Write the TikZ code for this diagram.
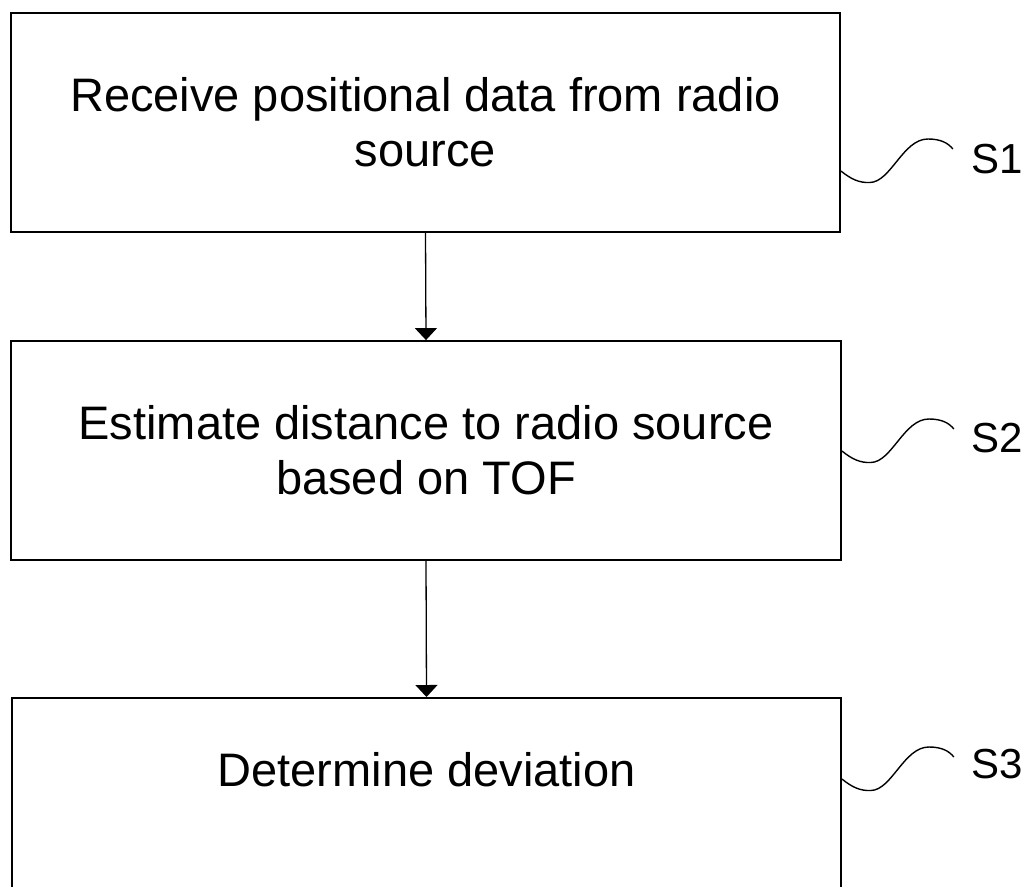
\documentclass[tikz,border=0pt]{standalone}
\usepackage{fontspec}
\setmainfont{Liberation Sans}
\usetikzlibrary{arrows.meta,calc}
\begin{document}
\begin{tikzpicture}[x=1pt,y=1pt,
  stepbox/.style={draw=black, line width=1.8pt, rectangle, inner sep=0pt, align=center,
    font=\fontsize{47}{55}\selectfont},
  txt/.style={inner sep=0pt, align=center, font=\fontsize{47}{55}\selectfont},
  flow/.style={draw=black, line width=1.3pt, -{Triangle[width=22pt,length=12pt]}},
  leader/.style={draw=black, line width=1.4pt},
  steplabel/.style={inner sep=0pt, anchor=base west, font=\fontsize{42}{48}\selectfont}]
\useasboundingbox (0,0) rectangle (1030,-886);
\fill[white] (0,0) rectangle (1030,-886);
% boxes
\node[stepbox, minimum width=829pt, minimum height=219pt] (b1) at (425.5,-122.5)
  {Receive positional data from radio\\source};
\node[stepbox, minimum width=830pt, minimum height=219pt] (b2) at (426,-450.5)
  {Estimate distance to radio source\\based on TOF};
\node[stepbox, minimum width=829pt, minimum height=230pt, anchor=north] (b3) at (426.5,-697) {};
\node[txt] (t3) at (426.5,-770) {Determine deviation};
% arrows
\draw[flow] (b1.south) -- (b2.north);
\draw[flow] (b2.south) -- (b3.north);
% leaders
\coordinate (y1) at (0,-171);
\coordinate (y2) at (0,-451);
\coordinate (y3) at (0,-779);
\coordinate (s1) at (b1.east |- y1);
\coordinate (s2) at (b2.east |- y2);
\coordinate (s3) at (b3.east |- y3);
\foreach \s in {s1,s2,s3}{
  \draw[leader] (\s) .. controls ($(\s)+(10,-8)$) and ($(\s)+(18,-12)$) .. ($(\s)+(29,-11.5)$)
    .. controls ($(\s)+(50,-11)$) and ($(\s)+(62,32)$) .. ($(\s)+(87,32)$)
    .. controls ($(\s)+(100,32)$) and ($(\s)+(107,28)$) .. ($(\s)+(112,22)$);
}
% labels
\node[steplabel] (l1) at (971,-173) {S1};
\node[steplabel] (l2) at (971,-452) {S2};
\node[steplabel] (l3) at (971,-778) {S3};
\end{tikzpicture}
\end{document}
